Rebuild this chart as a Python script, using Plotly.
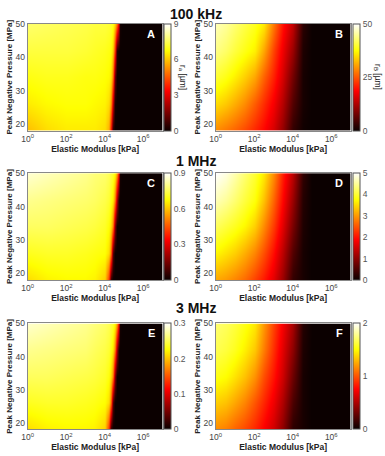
import plotly.graph_objects as go

# ---- data ----
# x positions are log10 of elastic modulus [kPa]; y is peak negative pressure [MPa]
pressure = [18, 26, 34, 42, 50]
logE_sharp = [0, 1, 2, 3, 3.5, 4, 4.2, 4.3, 4.4, 4.5, 4.6, 4.7, 4.8, 4.9, 5, 6, 7]
logE_soft = [0, 0.5, 1, 1.5, 2, 2.5, 3, 3.5, 4, 4.5, 5, 6, 7]

z_A = [
    [5.9, 6.3, 6.5, 6.5, 6.5, 6.3, 5.7, 3.6, 0.4, 0, 0, 0, 0, 0, 0, 0, 0],
    [6.5, 6.7, 6.8, 6.8, 6.7, 6.6, 6.3, 5.5, 2.7, 0.2, 0, 0, 0, 0, 0, 0, 0],
    [6.9, 7.0, 7.0, 6.9, 6.9, 6.8, 6.7, 6.4, 5.1, 1.4, 0, 0, 0, 0, 0, 0, 0],
    [7.3, 7.3, 7.3, 7.2, 7.1, 7.0, 6.9, 6.8, 6.2, 4.1, 0.4, 0, 0, 0, 0, 0, 0],
    [7.7, 7.6, 7.5, 7.4, 7.3, 7.3, 7.2, 7.1, 6.9, 6.2, 5.0, 2.7, 0.2, 0, 0, 0, 0],
]
z_B = [
    [29, 27.5, 26, 24, 21.5, 19, 15.5, 10.5, 3, 0.5, 0, 0, 0],
    [35, 33.5, 31.5, 29, 25.5, 22, 18, 13, 5.5, 1, 0, 0, 0],
    [40, 38.5, 36.5, 34, 31, 26, 21, 15.5, 8, 1, 0, 0, 0],
    [44, 42.5, 40.5, 38.5, 36.5, 31, 23.5, 17.5, 11, 1.5, 0, 0, 0],
    [46.5, 45, 43, 41, 39, 36, 27.5, 20, 14, 2.5, 0, 0, 0],
]
z_C = [
    [0.63, 0.66, 0.67, 0.67, 0.66, 0.61, 0.41, 0.05, 0, 0, 0, 0, 0, 0, 0, 0, 0],
    [0.70, 0.71, 0.71, 0.70, 0.69, 0.68, 0.63, 0.50, 0.11, 0, 0, 0, 0, 0, 0, 0, 0],
    [0.76, 0.76, 0.75, 0.74, 0.73, 0.71, 0.68, 0.63, 0.52, 0.18, 0, 0, 0, 0, 0, 0, 0],
    [0.80, 0.79, 0.78, 0.77, 0.76, 0.74, 0.72, 0.69, 0.65, 0.52, 0.23, 0.02, 0, 0, 0, 0, 0],
    [0.86, 0.84, 0.82, 0.80, 0.78, 0.77, 0.75, 0.73, 0.71, 0.67, 0.56, 0.32, 0.02, 0, 0, 0, 0],
]
z_D = [
    [3.1, 3.0, 2.85, 2.65, 2.35, 2.05, 1.65, 1.1, 0.3, 0.1, 0, 0, 0],
    [3.7, 3.55, 3.4, 3.15, 2.85, 2.45, 1.95, 1.35, 0.55, 0.1, 0, 0, 0],
    [4.2, 4.05, 3.9, 3.7, 3.4, 2.9, 2.3, 1.65, 0.85, 0.15, 0, 0, 0],
    [4.65, 4.5, 4.3, 4.05, 3.8, 3.3, 2.6, 1.9, 1.1, 0.2, 0, 0, 0],
    [5.0, 4.85, 4.6, 4.3, 4.0, 3.6, 2.9, 2.1, 1.35, 0.3, 0, 0, 0],
]
z_E = [
    [0.210, 0.219, 0.222, 0.222, 0.219, 0.204, 0.135, 0.018, 0, 0, 0, 0, 0, 0, 0, 0, 0],
    [0.234, 0.237, 0.237, 0.234, 0.231, 0.225, 0.210, 0.165, 0.036, 0, 0, 0, 0, 0, 0, 0, 0],
    [0.252, 0.252, 0.249, 0.246, 0.243, 0.237, 0.228, 0.210, 0.174, 0.060, 0, 0, 0, 0, 0, 0, 0],
    [0.267, 0.264, 0.261, 0.258, 0.252, 0.246, 0.240, 0.231, 0.216, 0.174, 0.075, 0.006, 0, 0, 0, 0, 0],
    [0.285, 0.279, 0.273, 0.267, 0.261, 0.255, 0.249, 0.243, 0.237, 0.222, 0.186, 0.105, 0.006, 0, 0, 0, 0],
]
z_F = [
    [1.16, 1.12, 1.04, 0.96, 0.86, 0.74, 0.6, 0.4, 0.1, 0.04, 0, 0, 0],
    [1.36, 1.32, 1.24, 1.14, 1.0, 0.86, 0.7, 0.5, 0.2, 0.04, 0, 0, 0],
    [1.54, 1.5, 1.42, 1.32, 1.18, 0.98, 0.8, 0.6, 0.3, 0.04, 0, 0, 0],
    [1.66, 1.62, 1.56, 1.46, 1.34, 1.12, 0.88, 0.66, 0.4, 0.06, 0, 0, 0],
    [1.72, 1.68, 1.62, 1.54, 1.44, 1.2, 0.94, 0.72, 0.48, 0.08, 0, 0, 0],
]

cbar_max = {"A": 9, "B": 50, "C": 0.9, "D": 5, "E": 0.3, "F": 2}
cbar_ticks = {
    "A": [0, 3, 6, 9],
    "B": [0, 25, 50],
    "C": [0, 0.3, 0.6, 0.9],
    "D": [0, 1, 2, 3, 4, 5],
    "E": [0, 0.1, 0.2, 0.3],
    "F": [0, 1, 2],
}
row_titles = ["100 kHz", "1 MHz", "3 MHz"]
x_tickvals = [0, 2, 4, 6]
x_ticktext = ["10<sup>0</sup>", "10<sup>2</sup>", "10<sup>4</sup>", "10<sup>6</sup>"]
y_tickvals = [20, 30, 40, 50]

# ---- layout geometry ----
W, H = 385, 456
FONT = "Liberation Sans, Arial, sans-serif"
hot = [[0, "rgb(11,0,0)"], [0.375, "rgb(255,0,0)"], [0.75, "rgb(255,255,0)"], [1, "rgb(255,255,255)"]]

col_px = [(22, 159), (213, 350)]
cb_px = [161, 353]
row_px = [(19, 127), (170, 278), (322, 429)]
title_y_px = [9, 158, 306]

panels = [
    ("A", z_A, logE_sharp, 0, 0),
    ("B", z_B, logE_soft, 0, 1),
    ("C", z_C, logE_sharp, 1, 0),
    ("D", z_D, logE_soft, 1, 1),
    ("E", z_E, logE_sharp, 2, 0),
    ("F", z_F, logE_soft, 2, 1),
]

fig = go.Figure()
annotations = []
layout_axes = {}

for i, (letter, z, xs, r, c) in enumerate(panels):
    n = i + 1
    xname = "x" if n == 1 else f"x{n}"
    yname = "y" if n == 1 else f"y{n}"
    x0, x1 = col_px[c]
    y0, y1 = row_px[r]
    dom_x = [x0 / W, x1 / W]
    dom_y = [1 - y1 / H, 1 - y0 / H]
    fig.add_trace(go.Heatmap(
        x=xs, y=pressure, z=z, xaxis=xname, yaxis=yname,
        zmin=0, zmax=cbar_max[letter], zsmooth="best", colorscale=hot,
        colorbar=dict(
            x=cb_px[c] / W, xanchor="left", xref="paper",
            y=(dom_y[0] + dom_y[1]) / 2, yanchor="middle", yref="paper",
            len=(y1 - y0) / H, lenmode="fraction", thickness=7,
            xpad=0, ypad=0, outlinewidth=1, outlinecolor="#555",
            tickvals=cbar_ticks[letter], ticks="",
            tickfont=dict(size=8.5, color="#555", family=FONT),
        ),
        hoverinfo="skip",
    ))
    ax_key = "xaxis" if n == 1 else f"xaxis{n}"
    ay_key = "yaxis" if n == 1 else f"yaxis{n}"
    layout_axes[ax_key] = dict(
        domain=dom_x, anchor=yname, range=[0, 7], tickvals=x_tickvals, ticktext=x_ticktext,
        showline=True, mirror=True, linecolor="#888", linewidth=1, ticks="",
        showgrid=False, zeroline=False, tickfont=dict(size=8.5, color="#444", family=FONT),
        title=dict(text="<b>Elastic Modulus [kPa]</b>", font=dict(size=8.5, color="#222", family=FONT), standoff=2),
    )
    layout_axes[ay_key] = dict(
        domain=dom_y, anchor=xname, range=[18, 50], tickvals=y_tickvals,
        showline=True, mirror=True, linecolor="#888", linewidth=1, ticks="",
        showgrid=False, zeroline=False, tickfont=dict(size=8.5, color="#444", family=FONT),
        title=dict(text="<b>Peak Negative Pressure [MPa]</b>", font=dict(size=8, color="#222", family=FONT), standoff=1),
    )
    annotations.append(dict(
        text=f"<b>{letter}</b>", x=(x1 - 6) / W, y=1 - (y0 + 10) / H, xref="paper", yref="paper",
        xanchor="right", yanchor="middle", showarrow=False,
        font=dict(size=11, color="white", family=FONT),
    ))

for t, ty in zip(row_titles, title_y_px):
    annotations.append(dict(
        text=f"<b>{t}</b>", x=193 / W, y=1 - ty / H, xref="paper", yref="paper",
        xanchor="center", yanchor="middle", showarrow=False,
        font=dict(size=14, color="#111", family=FONT),
    ))

annotations.append(dict(
    text="r<sub>a</sub> [µm]", x=180 / W, y=1 - 73 / H, xref="paper", yref="paper",
    xanchor="center", yanchor="middle", showarrow=False, textangle=90,
    font=dict(size=8.5, color="#222", family=FONT),
))
annotations.append(dict(
    text="r<sub>B</sub> [µm]", x=378 / W, y=1 - 73 / H, xref="paper", yref="paper",
    xanchor="center", yanchor="middle", showarrow=False, textangle=90,
    font=dict(size=8.5, color="#222", family=FONT),
))

fig.update_layout(
    width=W, height=H, margin=dict(l=0, r=0, t=0, b=0),
    paper_bgcolor="white", plot_bgcolor="white",
    annotations=annotations, showlegend=False,
    font=dict(family=FONT),
    **layout_axes,
)

fig.write_html(
    "out.html",
    config={"displayModeBar": False, "staticPlot": True},
    post_script="document.body.style.margin='0';document.body.style.padding='0';document.body.style.overflow='hidden';",
)
